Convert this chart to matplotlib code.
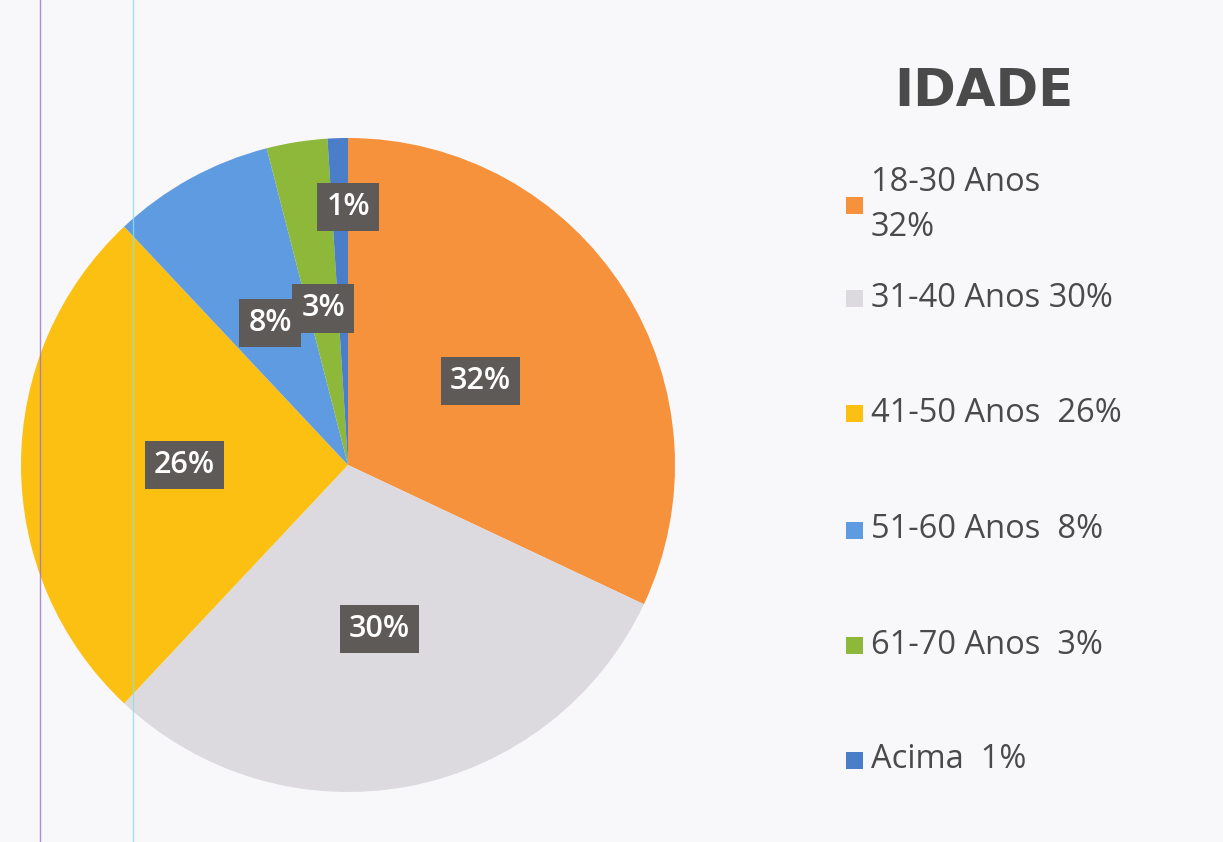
import numpy as np
import matplotlib
matplotlib.use("Agg")
import matplotlib.pyplot as plt
from matplotlib.patches import Rectangle

# ---- data ----
categories = ["18-30 Anos", "31-40 Anos", "41-50 Anos", "51-60 Anos", "61-70 Anos", "Acima"]
values = [32, 30, 26, 8, 3, 1]
legend_labels = ["18-30 Anos\n32%", "31-40 Anos 30%", "41-50 Anos  26%",
                 "51-60 Anos  8%", "61-70 Anos  3%", "Acima  1%"]
pct_labels = ["32%", "30%", "26%", "8%", "3%", "1%"]
title = "IDADE"

colors = ["#F6913C", "#DCDADF", "#FCC012", "#5F9BE0", "#8DB83A", "#4A7EC8"]
label_r = [0.48, 0.51, 0.50, 0.495, 0.485, 0.79]

W, H = 1223, 842
fig = plt.figure(figsize=(W / 100, H / 100), dpi=100)
fig.patch.set_facecolor("#F8F8FA")

# pie axes: pixel box x 21..675, y 138..792
ax = fig.add_axes([21 / W, (H - 792) / H, 654 / W, 654 / H])
ax.set_facecolor("none")
wedges, _ = ax.pie(values, colors=colors, startangle=90, counterclock=False,
                   radius=1.0, wedgeprops=dict(linewidth=0))
ax.set_xlim(-1, 1)
ax.set_ylim(-1, 1)
ax.set_aspect("equal")
ax.axis("off")

for w, lab, r in zip(wedges, pct_labels, label_r):
    ang = np.deg2rad((w.theta1 + w.theta2) / 2)
    x, y = r * np.cos(ang), r * np.sin(ang)
    if lab == "1%":
        x += 0.025
    ax.text(x, y, lab, ha="center", va="center", fontsize=22, color="white",
            fontweight="semibold", family=["Open Sans", "DejaVu Sans"],
            bbox=dict(boxstyle="square,pad=0.3", fc="#5E5A57", ec="none"))

# title
fig.text(984 / W, 1 - 92 / H, title, ha="center", va="center", fontsize=37,
         fontweight="heavy", color="#4A4A4A", family=["DejaVu Sans"])

# legend (manual)
entry_y = [205, 298, 413, 530, 645, 760]
for lab, c, yy in zip(legend_labels, colors, entry_y):
    fig.patches.append(Rectangle((846 / W, 1 - (yy + 9) / H), 17 / W, 17 / H,
                                 transform=fig.transFigure, fc=c, ec="none"))
    fig.text(871 / W, 1 - yy / H, lab, ha="left", va="center", fontsize=23.5,
             color="#4A4A4A", family=["Open Sans", "DejaVu Sans"], linespacing=1.45)

# scan guide lines
fig.add_artist(plt.Line2D([40 / W, 40 / W], [0, 1], color="#9C6FC4", lw=1.0,
                          alpha=0.8, transform=fig.transFigure))
fig.add_artist(plt.Line2D([133 / W, 133 / W], [0, 1], color="#86E2EA", lw=1.0,
                          alpha=0.8, transform=fig.transFigure))

fig.savefig("out.png", dpi=100, facecolor=fig.get_facecolor())
